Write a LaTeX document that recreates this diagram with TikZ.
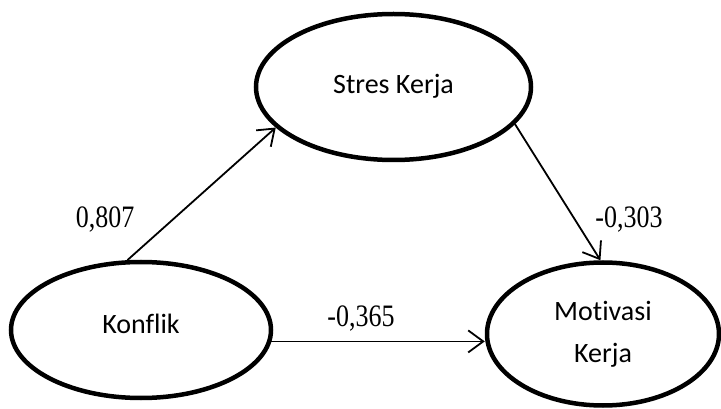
\documentclass[tikz,border=0pt]{standalone}
\usepackage{fontspec}
\setmainfont{Liberation Serif}
\newfontfamily\calibri[Ligatures=NoCommon]{Carlito}
\usetikzlibrary{shapes.geometric, arrows.meta}
\newcommand{\tallnum}[1]{\scalebox{1}[1.2]{#1}}

\begin{document}
\begin{tikzpicture}[x=1pt, y=-1pt,
    var/.style={ellipse, draw, line width=4.5pt, inner sep=0pt,
        font=\calibri\fontsize{28}{42}\selectfont, align=center},
    path/.style={-{Straight Barb[length=15pt, width=22pt, line width=1.8pt]}, line width=1.8pt},
    coef/.style={font=\fontsize{26}{30}\selectfont}]

    % 1. Fix the size of the picture
    \useasboundingbox (0,0) rectangle (721,409);

    % 2. Place the three variables
    \node[var, minimum width=275pt, minimum height=146pt] (stres) at (393.5,87) {\raisebox{7pt}{Stres Kerja}};
    \node[var, minimum width=260pt, minimum height=136pt] (konflik) at (141,330) {\raisebox{13pt}{Konflik}};
    \node[var, minimum width=232pt, minimum height=143pt] (motivasi) at (603,334) {Motivasi\\Kerja};

    % 3. Draw the paths between them
    \draw[path] (konflik.101) -- (stres.199);
    \draw[path] (stres.343) -- (motivasi.92);
    \draw[path] (konflik.-5) -- (konflik.-5 -| motivasi.west);

    % 4. Write the path coefficients
    \node[coef] (k-s) at (105,220) {\tallnum{0,807}};
    \node[coef] (s-m) at (629,220) {\tallnum{-0,303}};
    \node[coef] (k-m) at (361,319) {\tallnum{-0,365}};

\end{tikzpicture}
\end{document}
